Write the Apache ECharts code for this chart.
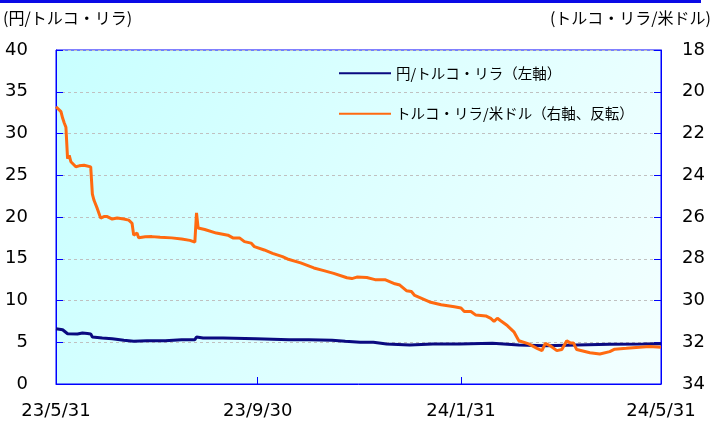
<!DOCTYPE html>
<html>
<head>
<meta charset="utf-8">
<script src="https://cdn.jsdelivr.net/npm/echarts@6/dist/echarts.min.js"></script>
<style>
html,body{margin:0;padding:0;background:#fff;}
#main{width:713px;height:427px;}
</style>
</head>
<body>
<div id="main"></div>
<script>
// ---- data ----
const seriesNames = ['円/トルコ・リラ（左軸）', 'トルコ・リラ/米ドル（右軸、反転）'];
const leftAxisTitle = '(円/トルコ・リラ)';
const rightAxisTitle = '(トルコ・リラ/米ドル)';

const xTickDates  = ['2023-05-31', '2023-09-30', '2024-01-31', '2024-05-31'];
const xTickLabels = ['23/5/31', '23/9/30', '24/1/31', '24/5/31'];

// 円/トルコ・リラ (left axis)
const jpyTryDates = ['2023-05-31','2023-06-04','2023-06-05','2023-06-07','2023-06-13','2023-06-16','2023-06-19','2023-06-21','2023-06-22','2023-06-28',
  '2023-07-04','2023-07-11','2023-07-17','2023-07-25','2023-08-05','2023-08-15','2023-08-23','2023-08-24','2023-08-28','2023-09-09',
  '2023-09-29','2023-10-19','2023-10-31','2023-11-14','2023-11-22','2023-12-01','2023-12-09','2023-12-17','2023-12-31','2024-01-14',
  '2024-01-30','2024-02-19','2024-03-06','2024-03-22','2024-04-10','2024-04-30','2024-05-20','2024-05-31'];
const jpyTryValues = [6.62,6.5,6.4,6.02,5.99,6.1,6.05,6.0,5.63,5.51,
  5.43,5.23,5.11,5.19,5.19,5.31,5.31,5.63,5.51,5.51,
  5.43,5.31,5.31,5.23,5.11,4.99,4.99,4.79,4.67,4.79,
  4.79,4.87,4.67,4.59,4.67,4.75,4.79,4.82];

// トルコ・リラ/米ドル (right axis, inverted)
const tryUsdDates = ['2023-05-31','2023-06-03','2023-06-04','2023-06-05','2023-06-06','2023-06-07','2023-06-08','2023-06-09','2023-06-12','2023-06-13',
  '2023-06-14','2023-06-17','2023-06-21','2023-06-22','2023-06-23','2023-06-25','2023-06-27','2023-06-29','2023-07-01','2023-07-04',
  '2023-07-07','2023-07-11','2023-07-14','2023-07-16','2023-07-17','2023-07-18','2023-07-19','2023-07-20','2023-07-24','2023-07-28',
  '2023-08-02','2023-08-09','2023-08-15','2023-08-20','2023-08-23','2023-08-24','2023-08-25','2023-08-29','2023-09-05','2023-09-12',
  '2023-09-15','2023-09-19','2023-09-22','2023-09-26','2023-09-28','2023-10-04','2023-10-09','2023-10-15','2023-10-18','2023-10-26',
  '2023-11-03','2023-11-09','2023-11-15','2023-11-23','2023-11-26','2023-11-29','2023-12-05','2023-12-10','2023-12-16','2023-12-22',
  '2023-12-25','2023-12-29','2024-01-01','2024-01-03','2024-01-12','2024-01-19','2024-01-27','2024-01-31','2024-02-02','2024-02-06',
  '2024-02-09','2024-02-15','2024-02-18','2024-02-20','2024-02-22','2024-02-24','2024-02-28','2024-03-03','2024-03-06','2024-03-12',
  '2024-03-17','2024-03-20','2024-03-22','2024-03-25','2024-03-29','2024-04-01','2024-04-04','2024-04-06','2024-04-08','2024-04-10',
  '2024-04-18','2024-04-24','2024-04-30','2024-05-03','2024-05-10','2024-05-18','2024-05-24','2024-05-31'];
const tryUsdValues = [20.72,20.95,21.26,21.5,21.7,23.2,23.05,23.35,23.59,23.5,
  23.55,23.52,23.6,24.9,25.2,25.6,26.05,25.98,25.98,26.1,
  26.05,26.1,26.15,26.3,26.87,26.9,26.77,26.99,26.95,26.94,
  26.97,27.0,27.05,27.12,27.2,25.8,26.53,26.6,26.77,26.87,
  27.0,27.0,27.18,27.25,27.42,27.58,27.74,27.9,28.01,28.2,
  28.44,28.57,28.7,28.91,28.95,28.88,28.9,29.0,29.0,29.2,
  29.26,29.53,29.57,29.76,30.07,30.2,30.3,30.36,30.53,30.53,
  30.7,30.74,30.86,31.0,30.85,30.97,31.2,31.5,31.93,32.08,
  32.29,32.4,32.05,32.17,32.4,32.35,31.93,32.03,32.03,32.35,
  32.5,32.56,32.45,32.33,32.29,32.24,32.2,32.24];

// ---- chart ----
function ts(s){ const p = s.split('-').map(Number); return Date.UTC(p[0], p[1]-1, p[2]); }
const xTickTs = xTickDates.map(ts);
function pairs(dates, vals){ return dates.map((d,i)=>[ts(d), vals[i]]); }

const numFont = 'DejaVu Sans';
const jpFont = 'Noto Sans CJK JP';
const blue = '#0000ff';

const chart = echarts.init(document.getElementById('main'), null, {renderer:'canvas'});
chart.setOption({
  animation: false,
  backgroundColor: '#ffffff',
  grid: {
    left: 56, right: 52, top: 50, bottom: 43,
    show: true,
    borderColor: blue, borderWidth: 1,
    backgroundColor: {
      type: 'linear', x: 0, y: 0, x2: 1, y2: 1,
      colorStops: [{offset: 0, color: '#c8ffff'}, {offset: 1, color: '#f4ffff'}]
    }
  },
  graphic: [
    {type: 'rect', left: 0, top: 0, shape: {width: 701, height: 3}, style: {fill: '#0a0ae6'}, z: 10},
    {type: 'text', left: 3, top: 10, style: {text: leftAxisTitle, font: '16px "' + jpFont + '"', fill: '#000'}},
    {type: 'text', right: 2, top: 10, style: {text: rightAxisTitle, font: '16px "' + jpFont + '"', fill: '#000'}}
  ],
  legend: {
    left: 333, top: 61, orient: 'vertical',
    itemWidth: 52, itemHeight: 14, itemGap: 26,
    itemStyle: {opacity: 0},
    textStyle: {fontFamily: jpFont, fontSize: 14.5, color: '#000'},
    data: seriesNames
  },
  xAxis: {
    type: 'value',
    min: xTickTs[0], max: xTickTs[xTickTs.length-1],
    axisLine: {lineStyle: {color: blue, width: 1}},
    axisTick: {show: true, inside: true, length: 7, lineStyle: {color: blue}, customValues: xTickTs},
    axisLabel: {
      customValues: xTickTs, margin: 18, showMinLabel: true, showMaxLabel: true,
      fontFamily: numFont, fontSize: 18, color: '#000',
      formatter: function(v){ const i = xTickTs.indexOf(v); return i >= 0 ? xTickLabels[i] : ''; }
    },
    splitLine: {show: false}
  },
  yAxis: [
    {
      type: 'value', min: 0, max: 40, interval: 5,
      axisLine: {show: true, lineStyle: {color: blue}},
      axisTick: {show: true, inside: true, length: 7, lineStyle: {color: blue}},
      axisLabel: {margin: 28, fontFamily: numFont, fontSize: 18, color: '#000'},
      splitLine: {show: true, lineStyle: {color: '#c0c0c0', type: [3, 3]}}
    },
    {
      type: 'value', min: 18, max: 34, interval: 2, inverse: true, position: 'right',
      axisLine: {show: true, lineStyle: {color: blue}},
      axisTick: {show: true, inside: true, length: 7, lineStyle: {color: blue}},
      axisLabel: {margin: 21, fontFamily: numFont, fontSize: 18, color: '#000'},
      splitLine: {show: false}
    }
  ],
  series: [
    {
      name: seriesNames[0], type: 'line', yAxisIndex: 0,
      data: pairs(jpyTryDates, jpyTryValues),
      symbol: 'none', lineStyle: {color: '#0a0a80', width: 3}, itemStyle: {color: '#0a0a80'}, z: 3
    },
    {
      name: seriesNames[1], type: 'line', yAxisIndex: 1,
      data: pairs(tryUsdDates, tryUsdValues),
      symbol: 'none', lineStyle: {color: '#ff6a10', width: 3}, itemStyle: {color: '#ff6a10'}, z: 4
    }
  ]
});
</script>
</body>
</html>
